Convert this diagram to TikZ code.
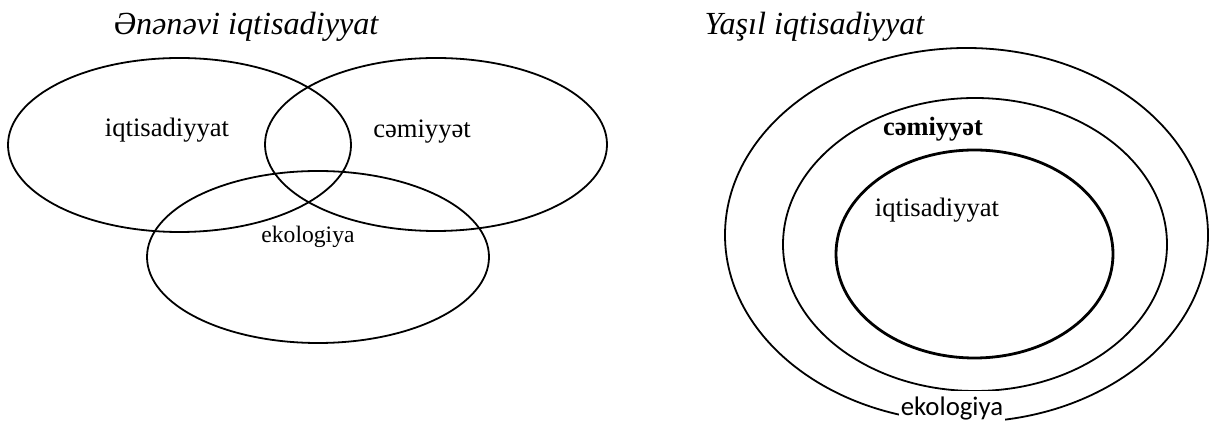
\documentclass[tikz,border=0pt]{standalone}
\usepackage{fontspec}
\setmainfont{Liberation Serif}
\newfontfamily\calfont{Carlito}
\usetikzlibrary{positioning}
\tikzset{
  ring/.style={line width=0.9pt},
  corering/.style={line width=1.4pt},
  title/.style={anchor=base, font=\fontsize{16.1}{19}\selectfont\itshape},
  lbl/.style={anchor=base, font=\fontsize{13.3}{16}\selectfont},
}
\begin{document}
\begin{tikzpicture}[x=0.5pt, y=-0.5pt]
        \useasboundingbox (0,0) rectangle (1209,421);

        % Traditional economy
        \node[title] (tradtitle) at (246,35) {Ənənəvi iqtisadiyyat};
        \draw[ring] (179.5,145) ellipse [x radius=171.5, y radius=87];
        \draw[ring] (436,144.5) ellipse [x radius=171, y radius=86.5];
        \draw[ring] (318,257) ellipse [x radius=171, y radius=86];
        \node[lbl] (tradecon) at (167,137) {iqtisadiyyat};
        \node[lbl] (tradsoc) at (422,138) {cəmiyyət};
        \node[lbl, font=\fontsize{11.8}{14}\selectfont] (tradeco) at (308,243) {ekologiya};

        % Green economy
        \node[title] (greentitle) at (814.5,35) {Yaşıl iqtisadiyyat};
        \draw[ring] (966.5,235) ellipse [x radius=241.5, y radius=187];
        \draw[ring] (975,244.5) ellipse [x radius=192, y radius=146.5];
        \draw[corering] (974.5,254) ellipse [x radius=138.5, y radius=104];
        \node[lbl, font=\fontsize{13.2}{16}\selectfont\bfseries] (greensoc) at (933,136) {cəmiyyət};
        \node[lbl] (greenecon) at (937,217) {iqtisadiyyat};
        \node[lbl, font=\fontsize{13.4}{16}\selectfont\calfont, fill=white, inner xsep=1pt] (greeneco) at (952,416) {ekologiya};
    \end{tikzpicture}
\end{document}
